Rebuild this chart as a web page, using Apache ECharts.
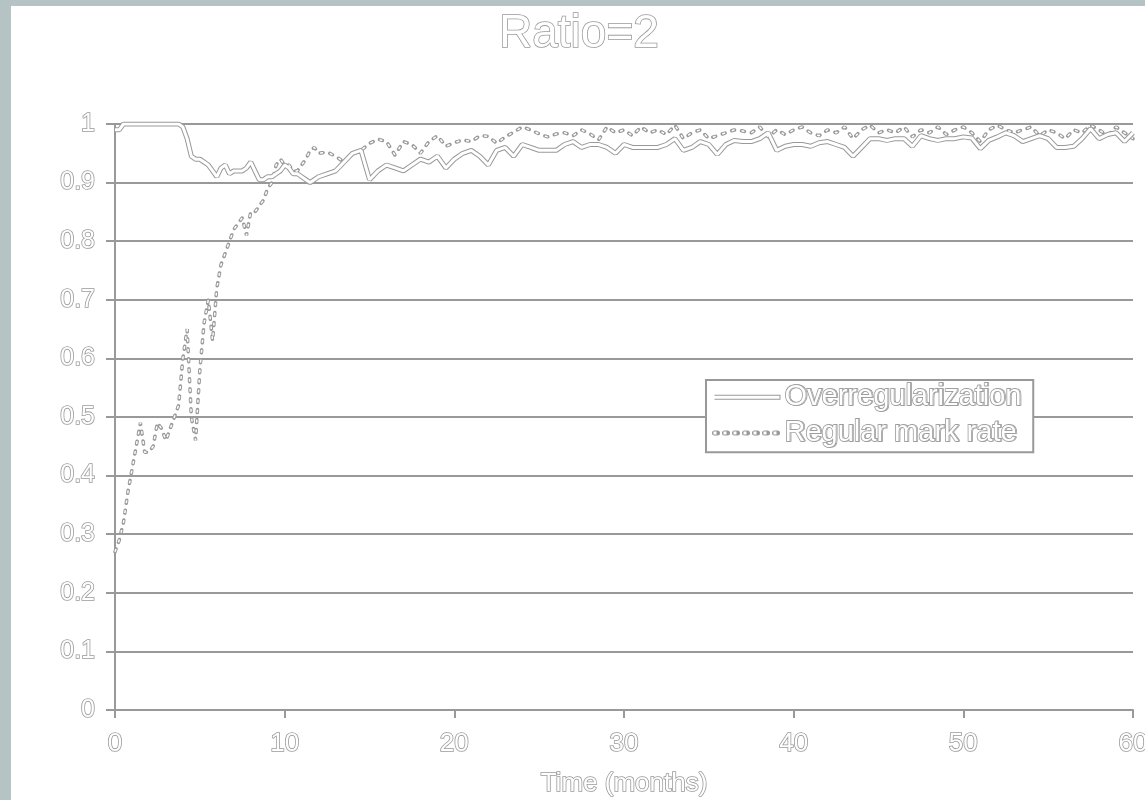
<!DOCTYPE html>
<html>
<head>
<meta charset="utf-8">
<script src="https://cdn.jsdelivr.net/npm/echarts@6/dist/echarts.min.js"></script>
<style>
  html, body { margin: 0; padding: 0; }
  body { background: #b5c3c5; width: 1145px; height: 800px; position: relative; overflow: hidden; }
  .sheet { position: absolute; left: 11px; top: 6px; right: 0; bottom: 0; background: #ffffff; }
  #main { position: absolute; left: 0; top: 0; width: 1145px; height: 800px; }
</style>
</head>
<body>
<div class="sheet"></div>
<div id="main"></div>
<script>
// time in months
const months = [
  0, 0.25, 0.5, 0.75, 1, 1.25, 1.5, 1.75, 2, 2.25, 2.5, 2.75, 3, 3.25, 3.5, 3.75,
  4, 4.25, 4.5, 4.75, 5, 5.25, 5.5, 5.75, 6, 6.25, 6.5, 6.75, 7, 7.25, 7.5, 7.75,
  8, 8.25, 8.5, 8.75, 9, 9.25, 9.5, 9.75, 10, 10.25, 10.5, 10.75, 11, 11.25, 11.5, 11.75, 12,
  12.5, 13, 13.5, 14, 14.5, 15, 15.5, 16, 16.5, 17, 17.5, 18, 18.5, 19, 19.5, 20,
  20.5, 21, 21.5, 22, 22.5, 23, 23.5, 24, 24.5, 25, 25.5, 26, 26.5, 27, 27.5, 28,
  28.5, 29, 29.5, 30, 30.5, 31, 31.5, 32, 32.5, 33, 33.5, 34, 34.5, 35, 35.5, 36,
  36.5, 37, 37.5, 38, 38.5, 39, 39.5, 40, 40.5, 41, 41.5, 42, 42.5, 43, 43.5, 44,
  44.5, 45, 45.5, 46, 46.5, 47, 47.5, 48, 48.5, 49, 49.5, 50, 50.5, 51, 51.5, 52,
  52.5, 53, 53.5, 54, 54.5, 55, 55.5, 56, 56.5, 57, 57.5, 58, 58.5, 59, 59.5, 60
]

const overregularization = [
  0.99, 0.99, 1, 1, 1, 1, 1, 1, 1, 1, 1, 1, 1, 1, 1, 1,
  0.995, 0.975, 0.945, 0.94, 0.94, 0.935, 0.93, 0.92, 0.91, 0.925, 0.93, 0.915, 0.92, 0.92, 0.92, 0.925,
  0.935, 0.92, 0.905, 0.905, 0.91, 0.91, 0.915, 0.92, 0.93, 0.925, 0.915, 0.915, 0.91, 0.905, 0.9, 0.905, 0.91,
  0.915, 0.92, 0.935, 0.95, 0.955, 0.905, 0.92, 0.93, 0.925, 0.92, 0.93, 0.94, 0.935, 0.945, 0.925, 0.94,
  0.95, 0.955, 0.945, 0.93, 0.955, 0.96, 0.945, 0.965, 0.96, 0.955, 0.955, 0.955, 0.965, 0.97, 0.96, 0.965,
  0.965, 0.96, 0.95, 0.965, 0.96, 0.96, 0.96, 0.96, 0.965, 0.975, 0.955, 0.96, 0.97, 0.965, 0.948, 0.965,
  0.972, 0.97, 0.97, 0.975, 0.985, 0.955, 0.962, 0.965, 0.965, 0.962, 0.968, 0.97, 0.965, 0.96, 0.945, 0.96,
  0.975, 0.975, 0.972, 0.975, 0.975, 0.962, 0.98, 0.975, 0.972, 0.975, 0.975, 0.978, 0.976, 0.958, 0.972, 0.978,
  0.985, 0.98, 0.97, 0.975, 0.98, 0.975, 0.96, 0.96, 0.962, 0.975, 0.992, 0.975, 0.982, 0.985, 0.97, 0.985
]

const regularMarkRate = [
  0.27, 0.29, 0.32, 0.37, 0.41, 0.45, 0.49, 0.44, 0.44, 0.45, 0.49, 0.48, 0.46, 0.48, 0.5, 0.52,
  0.6, 0.65, 0.5, 0.46, 0.58, 0.66, 0.7, 0.63, 0.72, 0.76, 0.78, 0.8, 0.82, 0.83, 0.84, 0.81,
  0.85, 0.85, 0.86, 0.87, 0.89, 0.9, 0.93, 0.94, 0.93, 0.93, 0.92, 0.92, 0.93, 0.94, 0.955, 0.96, 0.95,
  0.952, 0.945, 0.935, 0.95, 0.955, 0.967, 0.974, 0.97, 0.947, 0.97, 0.965, 0.95, 0.97, 0.98, 0.962, 0.968,
  0.973, 0.97, 0.98, 0.979, 0.967, 0.978, 0.986, 0.995, 0.99, 0.983, 0.978, 0.983, 0.985, 0.98, 0.99, 0.983,
  0.973, 0.995, 0.985, 0.99, 0.98, 0.995, 0.985, 0.99, 0.982, 0.998, 0.975, 0.985, 0.99, 0.975, 0.98, 0.985,
  0.99, 0.988, 0.985, 0.995, 0.978, 0.99, 0.982, 0.99, 0.995, 0.985, 0.98, 0.99, 0.985, 0.995, 0.975, 0.99,
  0.998, 0.985, 0.99, 0.985, 0.995, 0.978, 0.99, 0.985, 0.995, 0.982, 0.99, 0.995, 0.985, 0.97, 0.99, 0.998,
  0.99, 0.985, 0.99, 0.995, 0.98, 0.99, 0.985, 0.975, 0.99, 0.985, 0.998, 0.99, 0.98, 0.995, 0.985, 0.975
]

const seriesNames = ['Overregularization', 'Regular mark rate']
const yTicks = [0, 0.1, 0.2, 0.3, 0.4, 0.5, 0.6, 0.7, 0.8, 0.9, 1]

const grey = '#999999'
const font = '"Liberation Sans", Arial, sans-serif'
const dash = [3, 7]

// hollow text like the original (white fill, grey rim)
function hollow(size) {
  return {
    color: '#ffffff',
    textBorderColor: grey,
    textBorderWidth: 1.6,
    fontSize: size,
    fontFamily: font
  }
}

function pairs(values) {
  return months.map((t, i) => [t, values[i]])
}

// every line is drawn twice: a wide grey rim and a thinner white core on top
function rimLine(name, values, dashed) {
  return {
    name: name,
    type: 'line',
    symbol: 'none',
    silent: true,
    z: 3,
    lineStyle: { color: grey, width: dashed ? 3.5 : 5, type: dashed ? dash : 'solid', cap: dashed ? 'round' : 'butt' },
    data: pairs(values)
  }
}
function coreLine(name, values, dashed) {
  return {
    name: name + ' ',
    type: 'line',
    symbol: 'none',
    silent: true,
    z: 4,
    lineStyle: { color: '#ffffff', width: dashed ? 1.5 : 3, type: dashed ? dash : 'solid', cap: 'butt' },
    data: pairs(values)
  }
}

function legendBox(names, lineWidth, boxed) {
  return {
    data: names,
    orient: 'vertical',
    left: 706,
    top: 380,
    padding: [2, 10, 4, 6],
    itemGap: 5,
    itemWidth: 66,
    itemHeight: 30,
    itemStyle: { opacity: 0 },
    lineStyle: { width: lineWidth },
    selectedMode: false,
    backgroundColor: boxed ? '#ffffff' : 'transparent',
    borderColor: grey,
    borderWidth: boxed ? 2 : 0,
    textStyle: Object.assign(hollow(29), { lineHeight: 30 }),
    itemTextGap: 5,
    z: boxed ? 10 : 11
  }
}

const chart = echarts.init(document.getElementById('main'))
chart.setOption({
  animation: false,
  backgroundColor: 'transparent',
  title: {
    text: 'Ratio=2',
    left: 494,
    top: 6,
    textStyle: Object.assign(hollow(46), { fontWeight: 'normal' })
  },
  legend: [
    legendBox(seriesNames, 5, true),
    legendBox(seriesNames.map(n => n + ' '), 3, false)
  ],
  grid: { left: 115, right: 12, top: 124, bottom: 90, outerBoundsMode: 'none', containLabel: false },
  xAxis: {
    type: 'value',
    min: 0,
    max: 60,
    interval: 10,
    name: 'Time (months)',
    nameLocation: 'middle',
    nameGap: 61,
    nameTextStyle: hollow(26),
    axisLine: { lineStyle: { color: grey, width: 2 } },
    axisTick: { show: true, length: 8, lineStyle: { color: grey, width: 2 } },
    axisLabel: Object.assign(hollow(26), { margin: 21, hideOverlap: false }),
    splitLine: { show: false }
  },
  yAxis: {
    type: 'value',
    min: 0,
    max: 1,
    interval: 0.1,
    axisLine: { show: true, lineStyle: { color: grey, width: 2 } },
    axisTick: { show: true, length: 9, lineStyle: { color: grey, width: 2 } },
    axisLabel: Object.assign(hollow(25), {
      margin: 20,
      formatter: v => String(yTicks.find(t => Math.abs(t - v) < 1e-6) ?? v)
    }),
    splitLine: { show: true, lineStyle: { color: grey, width: 2 } }
  },
  series: [
    rimLine(seriesNames[0], overregularization, false),
    rimLine(seriesNames[1], regularMarkRate, true),
    coreLine(seriesNames[0], overregularization, false),
    coreLine(seriesNames[1], regularMarkRate, true)
  ]
})
</script>
</body>
</html>
